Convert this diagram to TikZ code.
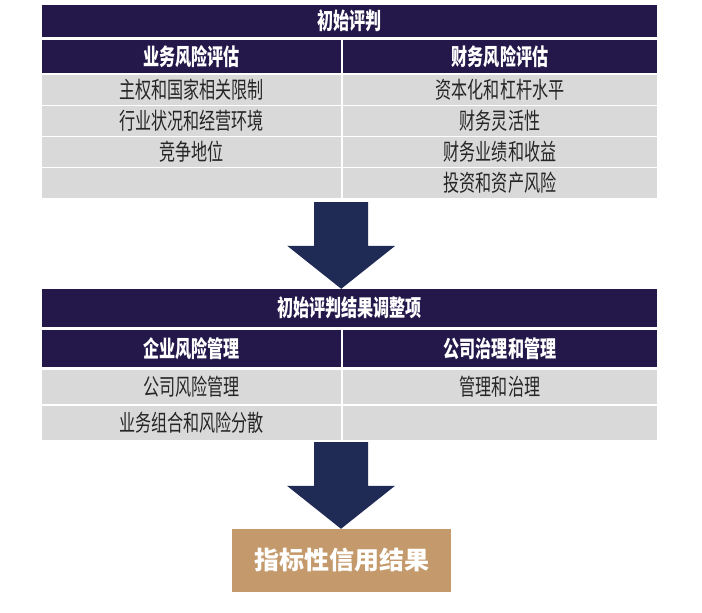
\documentclass[tikz,border=0pt]{standalone}
\usepackage{fontspec}
\setmainfont{Noto Sans CJK SC}
\newfontfamily\condfont{Noto Sans CJK SC}[FakeStretch=0.7]
\usepackage{xcolor}
\usepackage{tikz}
\usetikzlibrary{positioning,calc}

\definecolor{hdrcol}{RGB}{36,24,74}
\definecolor{cellcol}{RGB}{217,217,217}
\definecolor{arrowcol}{RGB}{31,43,85}
\definecolor{goldcol}{RGB}{196,154,108}
\definecolor{txtcol}{RGB}{38,38,38}

\begin{document}
\begin{tikzpicture}[x=1pt,y=-1pt,
    hdr/.style={fill=hdrcol,text=white,font=\condfont\fontsize{23}{23}\selectfont\bfseries,inner sep=0pt},
    cell/.style={fill=cellcol,text=txtcol,font=\condfont\fontsize{23}{23}\selectfont,inner sep=0pt,minimum height=30pt},
    lcol/.style={minimum width=299pt},
    rcol/.style={minimum width=314pt},
    result/.style={fill=goldcol,text=white,font=\fontsize{25}{25}\selectfont\bfseries,
      minimum width=219pt,minimum height=63pt,inner sep=0pt}]
  \useasboundingbox (0,0) rectangle (702,613);

  % initial assessment
  \node[hdr,minimum width=615pt,minimum height=32pt] (t1) at (349.5,21) {初始评判};
  \node[hdr,lcol,minimum height=33pt] (b1) at (191.5,56.5) {业务风险评估};
  \node[hdr,rcol,minimum height=33pt] (f1) at (500,56.5) {财务风险评估};
  \node[cell,lcol] (b2) at (191.5,90) {主权和国家相关限制};
  \node[cell,lcol] (b3) at (191.5,121) {行业状况和经营环境};
  \node[cell,lcol] (b4) at (191.5,152) {竞争地位};
  \node[cell,lcol] (b5) at (191.5,183) {};
  \node[cell,rcol] (f2) at (500,90) {资本化和杠杆水平};
  \node[cell,rcol] (f3) at (500,121) {财务灵活性};
  \node[cell,rcol] (f4) at (500,152) {财务业绩和收益};
  \node[cell,rcol] (f5) at (500,183) {投资和资产风险};

  % adjustments
  \node[hdr,minimum width=615pt,minimum height=38pt] (t2) at (349.5,308) {初始评判结果调整项};
  \node[hdr,lcol,minimum height=37pt] (e1) at (191.5,348.5) {企业风险管理};
  \node[hdr,rcol,minimum height=37pt] (g1) at (500,348.5) {公司治理和管理};
  \node[cell,lcol,minimum height=34pt] (e2) at (191.5,387) {公司风险管理};
  \node[cell,lcol,minimum height=34pt] (e3) at (191.5,423) {业务组合和风险分散};
  \node[cell,rcol,minimum height=34pt] (g2) at (500,387) {管理和治理};
  \node[cell,rcol,minimum height=34pt] (g3) at (500,423) {};

  % outcome
  \node[result] (r) at (341.5,560.5) {指标性信用结果};

  \coordinate (a1s) at ($(b5.south east)+(0,4)$);
  \coordinate (a1e) at ($(t2.north)!(a1s)!(t2.north east)$);
  \coordinate (a2s) at ($(e3.south east)+(0,2)$);
  \coordinate (a2e) at ($(r.north)+(-0.5,0)$);
  \foreach \s/\e in {a1s/a1e,a2s/a2e}
    \fill[arrowcol] ($(\s)+(-27,0)$) -- ($(\e)+(-27,-43)$) -- ($(\e)+(-54,-43)$)
      -- (\e) -- ($(\e)+(54,-43)$) -- ($(\e)+(27,-43)$) -- ($(\s)+(27,0)$) -- cycle;
\end{tikzpicture}
\end{document}
